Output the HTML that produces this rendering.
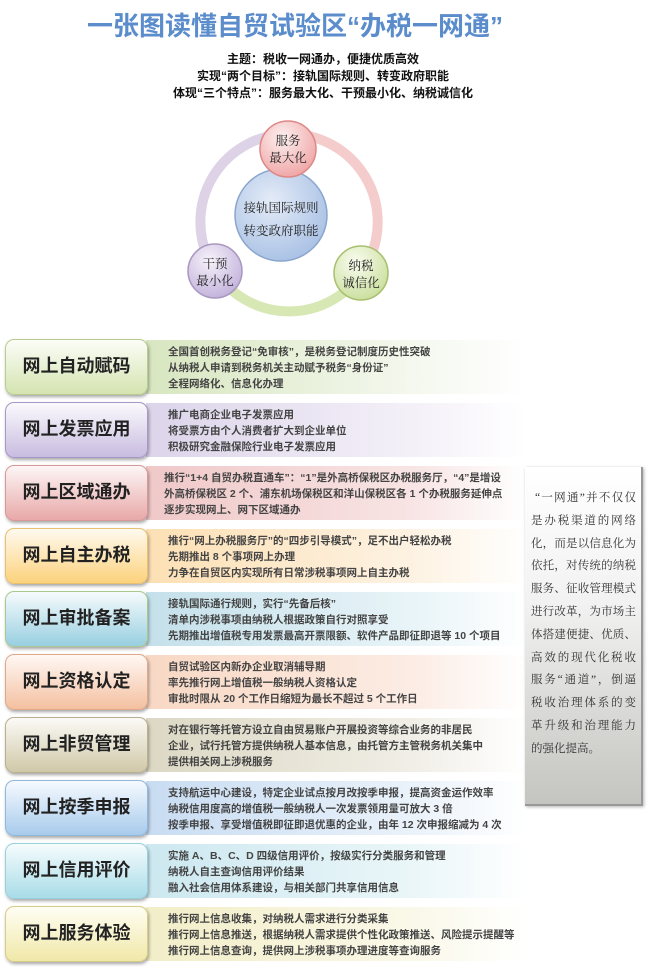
<!DOCTYPE html>
<html><head><meta charset="utf-8"><style>
*{margin:0;padding:0;box-sizing:border-box}
body{width:650px;height:967px;background:#fff;position:relative;overflow:hidden;font-family:"Liberation Sans","Noto Sans CJK SC",sans-serif}
.t{position:absolute;left:0;width:650px;text-align:center}
.lab{position:absolute;left:5px;width:143px;height:56px;border-radius:9px;border:1.5px solid;font-size:18px;line-height:53px;text-align:center;color:#222;font-weight:bold;box-shadow:1px 2px 3px rgba(0,0,0,.35);z-index:2}
.pan{position:absolute;left:146px;width:380px;height:54px;padding:4px 0 0 22px;font-size:10.5px;line-height:16px;color:#444;font-weight:bold;white-space:nowrap}
.side{position:absolute;left:525px;top:467px;width:118px;height:339px;background:linear-gradient(#fff 0%,#f2f2f2 40%,#c4c4c0 100%);border-right:2px solid #999;border-bottom:2px solid #999;box-shadow:1px 1px 3px rgba(0,0,0,.3);padding:20px 5px 0 6px;font-size:11.5px;line-height:22.8px;color:#333;font-family:"Liberation Serif","Noto Serif CJK SC",serif}
.side div{text-align:justify;text-align-last:justify;white-space:nowrap;height:22.8px;overflow:hidden}
</style></head><body>
<div class="t" style="top:6px;left:-30px;font-size:26px;font-weight:bold;color:#5b8ccc">一张图读懂自贸试验区“办税一网通”</div>
<div class="t" style="top:51px;font-size:12px;font-weight:bold;line-height:17px;color:#111;left:-2px">主题：税收一网通办，便捷优质高效<br>实现“两个目标”：接轨国际规则、转变政府职能<br>体现“三个特点”：服务最大化、干预最小化、纳税诚信化</div>

<svg style="position:absolute;left:0;top:0" width="650" height="330">
<defs>
<radialGradient id="c" cx=".4" cy=".35" r=".7"><stop offset="0" stop-color="#e4ecf8"/><stop offset="1" stop-color="#a8c0e4"/></radialGradient>
<radialGradient id="p" cx=".4" cy=".3" r=".7"><stop offset="0" stop-color="#fdf0f0"/><stop offset="1" stop-color="#f0a8a8"/></radialGradient>
<radialGradient id="u" cx=".4" cy=".3" r=".7"><stop offset="0" stop-color="#f6f2fa"/><stop offset="1" stop-color="#c4b4dc"/></radialGradient>
<radialGradient id="g" cx=".4" cy=".3" r=".7"><stop offset="0" stop-color="#fafcf0"/><stop offset="1" stop-color="#cce0a0"/></radialGradient>
</defs>
<path d="M288 134 A88 88 0 0 1 370 258" fill="none" stroke="#f4cccc" stroke-width="10"/>
<path d="M370 258 A88 88 0 0 1 210 262" fill="none" stroke="#d8e8b4" stroke-width="10"/>
<path d="M210 262 A88 88 0 0 1 288 134" fill="none" stroke="#ddd2e6" stroke-width="10"/>
<circle cx="281" cy="215" r="46" fill="url(#c)" stroke="#8aa6cc" stroke-width="1.5"/>
<circle cx="288" cy="149" r="28" fill="url(#p)" stroke="#d88" stroke-width="1.5"/>
<circle cx="215" cy="271" r="27" fill="url(#u)" stroke="#a898c0" stroke-width="1.5"/>
<circle cx="361" cy="273" r="27" fill="url(#g)" stroke="#a8c070" stroke-width="1.5"/>
<g font-family="Liberation Serif,Noto Serif CJK SC,serif" font-size="12.5" fill="#222" text-anchor="middle">
<text x="288" y="145">服务</text><text x="288" y="162">最大化</text>
<text x="281" y="212">接轨国际规则</text><text x="281" y="235">转变政府职能</text>
<text x="215" y="268">干预</text><text x="215" y="285">最小化</text>
<text x="361" y="270">纳税</text><text x="361" y="287">诚信化</text>
</g>
</svg>

<div class="lab" style="top:339px;border-color:#b8cc90;background:linear-gradient(#fcfdf8,#d4e4b0)">网上自动赋码</div>
<div class="pan" style="top:340px;background:linear-gradient(90deg,#d8e6c0,#f4f8ee 70%,#fff)">全国首创税务登记“免审核”，是税务登记制度历史性突破<br>从纳税人申请到税务机关主动赋予税务“身份证”<br>全程网络化、信息化办理</div>

<div class="lab" style="top:402px;border-color:#a898c8;background:linear-gradient(#fbfafd,#c8bce0)">网上发票应用</div>
<div class="pan" style="top:403px;background:linear-gradient(90deg,#dcd4ea,#f4f0f8 70%,#fff)">推广电商企业电子发票应用<br>将受票方由个人消费者扩大到企业单位<br>积极研究金融保险行业电子发票应用</div>

<div class="lab" style="top:465px;border-color:#d89898;background:linear-gradient(#fdf6f6,#e8a8a8)">网上区域通办</div>
<div class="pan" style="top:466px;padding-left:18px;background:linear-gradient(90deg,#f0c8c8,#f8e4e4 70%,#fff)">推行“1+4 自贸办税直通车”：“1”是外高桥保税区办税服务厅，“4”是增设<br>外高桥保税区 2 个、浦东机场保税区和洋山保税区各 1 个办税服务延伸点<br>逐步实现网上、网下区域通办</div>

<div class="lab" style="top:528px;border-color:#e8c070;background:linear-gradient(#fffaf0,#fcd27c)">网上自主办税</div>
<div class="pan" style="top:529px;background:linear-gradient(90deg,#fde0b4,#fdf2e2 70%,#fff)">推行“网上办税服务厅”的“四步引导模式”，足不出户轻松办税<br>先期推出 8 个事项网上办理<br>力争在自贸区内实现所有日常涉税事项网上自主办税</div>

<div class="lab" style="top:591px;border-color:#a8c890;background:linear-gradient(#f6fbfd,#98cfe0)">网上审批备案</div>
<div class="pan" style="top:592px;background:linear-gradient(90deg,#c4e0ea,#e8f4f8 70%,#fff)">接轨国际通行规则，实行“先备后核”<br>清单内涉税事项由纳税人根据政策自行对照享受<br>先期推出增值税专用发票最高开票限额、软件产品即征即退等 10 个项目</div>

<div class="lab" style="top:654px;border-color:#e0a888;background:linear-gradient(#fff8f4,#f4c0a0)">网上资格认定</div>
<div class="pan" style="top:655px;background:linear-gradient(90deg,#f8d8c4,#fcece4 70%,#fff)">自贸试验区内新办企业取消辅导期<br>率先推行网上增值税一般纳税人资格认定<br>审批时限从 20 个工作日缩短为最长不超过 5 个工作日</div>

<div class="lab" style="top:717px;border-color:#b8b090;background:linear-gradient(#fbfaf6,#d0c8a8)">网上非贸管理</div>
<div class="pan" style="top:718px;background:linear-gradient(90deg,#dcd8c4,#f0eee6 70%,#fff)">对在银行等托管方设立自由贸易账户开展投资等综合业务的非居民<br>企业，试行托管方提供纳税人基本信息，由托管方主管税务机关集中<br>提供相关网上涉税服务</div>

<div class="lab" style="top:780px;border-color:#90b8dc;background:linear-gradient(#f6faff,#a8cbec)">网上按季申报</div>
<div class="pan" style="top:781px;background:linear-gradient(90deg,#c8dcf2,#eaf2fa 70%,#fff)">支持航运中心建设，特定企业试点按月改按季申报，提高资金运作效率<br>纳税信用度高的增值税一般纳税人一次发票领用量可放大 3 倍<br>按季申报、享受增值税即征即退优惠的企业，由年 12 次申报缩减为 4 次</div>

<div class="lab" style="top:843px;border-color:#98d0dc;background:linear-gradient(#f6fcfd,#a8dce8)">网上信用评价</div>
<div class="pan" style="top:844px;background:linear-gradient(90deg,#cce8f0,#eaf6f8 70%,#fff)">实施 A、B、C、D 四级信用评价，按级实行分类服务和管理<br>纳税人自主查询信用评价结果<br>融入社会信用体系建设，与相关部门共享信用信息</div>

<div class="lab" style="top:906px;border-color:#d8cc88;background:linear-gradient(#fffef4,#f0e8a8)">网上服务体验</div>
<div class="pan" style="top:907px;background:linear-gradient(90deg,#f2eec8,#faf8e8 70%,#fff)">推行网上信息收集，对纳税人需求进行分类采集<br>推行网上信息推送，根据纳税人需求提供个性化政策推送、风险提示提醒等<br>推行网上信息查询，提供网上涉税事项办理进度等查询服务</div>

<div class="side">
<div style="padding-left:4px">“一网通”并不仅仅</div>
<div>是办税渠道的网络</div>
<div>化，而是以信息化为</div>
<div>依托，对传统的纳税</div>
<div>服务、征收管理模式</div>
<div>进行改革，为市场主</div>
<div>体搭建便捷、优质、</div>
<div>高效的现代化税收</div>
<div>服务“通道”，倒逼</div>
<div>税收治理体系的变</div>
<div>革升级和治理能力</div>
<div style="text-align-last:left">的强化提高。</div>
</div>
</body></html>
